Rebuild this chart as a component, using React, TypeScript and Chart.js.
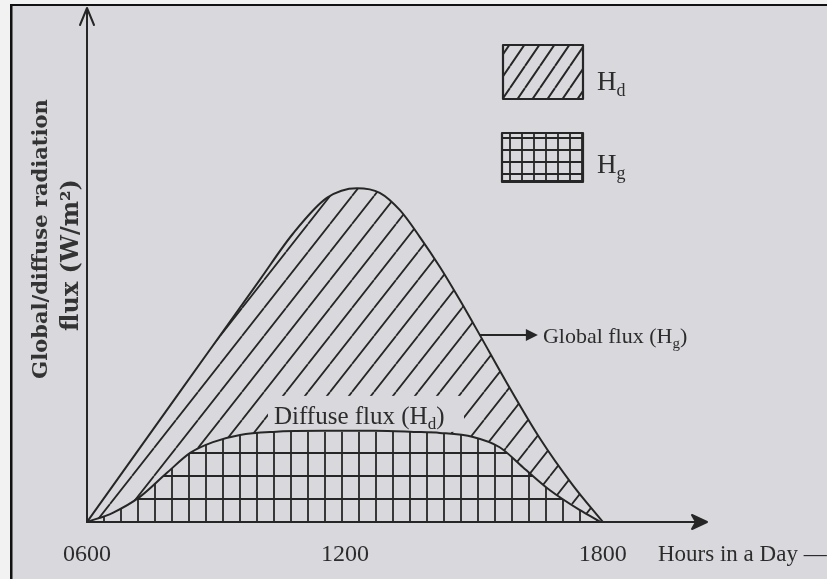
import React, { useEffect, useRef } from "react";
import { Chart, registerables } from "chart.js";

Chart.register(...registerables);

// ---- data (hours of day, flux in arbitrary W/m² units) ----
const hourTicks = [6, 12, 18];
const tickLabels = ["0600", "1200", "1800"];

const globalHours = [6, 8.16, 10.02, 10.79, 11.58, 12.28, 12.81, 13.28, 13.74, 14.21, 14.67, 15.14, 15.77, 16.53, 17.3, 18];
const globalFlux = [0, 254, 473, 563, 633, 652, 643, 609, 557, 498, 434, 365, 271, 164, 72, 0];

const diffuseHours = [6, 6.6, 7.23, 7.86, 8.4, 8.93, 9.56, 10.33, 11.5, 12.7, 13.6, 14.21, 14.98, 15.6, 16.14, 16.77, 17.47, 17.95];
const diffuseFlux = [0, 18, 49, 96, 135, 156, 170, 176, 178, 178, 176, 174, 166, 146, 107, 62, 23, 0];

const yTitleLine1 = "Global/diffuse radiation";
const yTitleLine2 = "flux (W/m²)";
const xTitle = "Hours in a Day —";

const PAPER = "#d9d9dd";
const INK = "#262626";
const TEXT = "#2c2c2c";
const SERIF = "'Liberation Serif', serif";
const BOLD_SERIF = "'DejaVu Serif', serif";

function diagTile(w: number, h: number, lw: number, bg?: string) {
  const c = document.createElement("canvas");
  c.width = w;
  c.height = h;
  const g = c.getContext("2d")!;
  if (bg) {
    g.fillStyle = bg;
    g.fillRect(0, 0, w, h);
  }
  g.strokeStyle = INK;
  g.lineWidth = lw;
  g.beginPath();
  for (const k of [-1, 0, 1]) {
    g.moveTo(k * w, h);
    g.lineTo((k + 1) * w, 0);
  }
  g.stroke();
  return c;
}

function gridTile(w: number, h: number, ox: number, oy: number, lw: number, bg: string) {
  const c = document.createElement("canvas");
  c.width = w;
  c.height = h;
  const g = c.getContext("2d")!;
  g.fillStyle = bg;
  g.fillRect(0, 0, w, h);
  g.strokeStyle = INK;
  g.lineWidth = lw;
  g.beginPath();
  for (const k of [-1, 0, 1]) {
    g.moveTo(ox + k * w, 0);
    g.lineTo(ox + k * w, h);
    g.moveTo(0, oy + k * h);
    g.lineTo(w, oy + k * h);
  }
  g.stroke();
  return c;
}

function subText(ctx: CanvasRenderingContext2D, x: number, y: number, main: string, sub: string, tail: string, size: number) {
  ctx.font = `${size}px ${SERIF}`;
  ctx.fillText(main, x, y);
  let cx = x + ctx.measureText(main).width;
  const ss = Math.round(size * 0.68);
  ctx.font = `${ss}px ${SERIF}`;
  ctx.fillText(sub, cx, y + size * 0.22);
  cx += ctx.measureText(sub).width;
  if (tail) {
    ctx.font = `${size}px ${SERIF}`;
    ctx.fillText(tail, cx, y);
  }
}

export default function App() {
  const ref = useRef<HTMLCanvasElement | null>(null);

  useEffect(() => {
    const canvas = ref.current!;
    const ctx = canvas.getContext("2d")!;
    const diagPattern = ctx.createPattern(diagTile(22, 28, 1.8), "repeat")!;
    const gridPattern = ctx.createPattern(gridTile(17, 23, 2, 16, 1.8, PAPER), "repeat")!;
    const legendDiag = ctx.createPattern(diagTile(15, 22, 2, PAPER), "repeat")!;
    const legendGrid = ctx.createPattern(gridTile(12, 12, 6, 6, 1.8, PAPER), "repeat")!;

    const paperPlugin = {
      id: "paper",
      beforeDraw(chart: any) {
        const c = chart.ctx;
        const W = chart.width;
        const H = chart.height;
        c.save();
        c.fillStyle = "#f2f2f2";
        c.fillRect(0, 0, W, H);
        c.fillStyle = PAPER;
        c.fillRect(12, 6, W - 12, H - 6);
        c.fillStyle = "#111";
        c.fillRect(10, 4, 2.5, H - 4);
        c.fillRect(10, 4, W - 10, 2);
        c.restore();
      },
    };

    const labelBox = (chart: any) => {
      const { x, y } = chart.scales;
      const dx = x.getPixelForValue(10.35);
      const top = y.getPixelForValue(178);
      return { dx, top, dy: top - 7 };
    };

    const decorPlugin = {
      id: "decor",
      beforeDatasetDraw(chart: any, args: any) {
        if (args.index !== 0) return;
        // clear the hatching behind the diffuse label (drawn before the diffuse line)
        const { dx, top, dy } = labelBox(chart);
        const c = chart.ctx;
        c.save();
        c.fillStyle = PAPER;
        c.fillRect(dx - 6, dy - 28, 196, top - (dy - 28) + 1);
        c.restore();
      },
      afterDatasetsDraw(chart: any) {
        const c = chart.ctx;
        const { dx, dy } = labelBox(chart);
        c.save();
        c.fillStyle = TEXT;
        c.textBaseline = "alphabetic";
        subText(c, dx, dy, "Diffuse flux (H", "d", ")", 25);
        c.restore();
      },
      afterDraw(chart: any) {
        const c = chart.ctx;
        const ca = chart.chartArea;
        const { x, y } = chart.scales;
        c.save();
        c.strokeStyle = INK;
        c.fillStyle = INK;
        c.lineWidth = 2;
        c.lineJoin = "round";
        c.lineCap = "round";
        // y-axis arrow head
        c.beginPath();
        c.moveTo(ca.left - 7, ca.top + 15);
        c.lineTo(ca.left, ca.top - 2);
        c.lineTo(ca.left + 7, ca.top + 15);
        c.stroke();
        // x-axis arrow head
        c.beginPath();
        c.moveTo(ca.right + 1, ca.bottom);
        c.lineTo(ca.right - 14, ca.bottom - 7);
        c.lineTo(ca.right - 10, ca.bottom);
        c.lineTo(ca.right - 14, ca.bottom + 7);
        c.closePath();
        c.fill();
        c.stroke();

        // Global flux pointer
        const gx = x.getPixelForValue(globalHours[11]);
        const gy = y.getPixelForValue(globalFlux[11]);
        c.beginPath();
        c.moveTo(gx, gy);
        c.lineTo(gx + 48, gy);
        c.stroke();
        c.beginPath();
        c.moveTo(gx + 58, gy);
        c.lineTo(gx + 46, gy - 6);
        c.lineTo(gx + 46, gy + 6);
        c.closePath();
        c.fill();
        c.fillStyle = TEXT;
        c.textBaseline = "alphabetic";
        subText(c, gx + 63, gy + 8, "Global flux (H", "g", ")", 22);

        // X title
        c.font = `23px ${SERIF}`;
        c.textBaseline = "middle";
        c.fillText(xTitle, 658, 555);

        // Y title (two rotated lines)
        c.fillStyle = "#333";
        c.textAlign = "center";
        c.textBaseline = "middle";
        c.save();
        c.translate(42, 239);
        c.rotate(-Math.PI / 2);
        c.font = `bold 21px ${BOLD_SERIF}`;
        c.fillText(yTitleLine1, 0, 0);
        c.restore();
        c.save();
        c.translate(72, 255);
        c.rotate(-Math.PI / 2);
        c.font = `bold 24px ${BOLD_SERIF}`;
        c.fillText(yTitleLine2, 0, 0);
        c.restore();
        c.textAlign = "left";

        // Legend
        c.fillStyle = legendDiag;
        c.fillRect(503, 45, 80, 54);
        c.lineWidth = 2.2;
        c.strokeStyle = INK;
        c.strokeRect(503, 45, 80, 54);
        c.fillStyle = legendGrid;
        c.fillRect(502, 133, 81, 49);
        c.strokeRect(502, 133, 81, 49);
        c.fillStyle = INK;
        c.fillRect(502, 180, 81, 3);
        c.fillStyle = TEXT;
        c.textBaseline = "alphabetic";
        subText(c, 597, 90, "H", "d", "", 27);
        subText(c, 597, 173, "H", "g", "", 27);
        c.restore();
      },
    };

    const chart = new Chart(ctx, {
      type: "line",
      data: {
        datasets: [
          {
            label: "Diffuse flux (Hd)",
            data: diffuseHours.map((h, i) => ({ x: h, y: diffuseFlux[i] })),
            borderColor: INK,
            borderWidth: 2,
            backgroundColor: gridPattern as any,
            fill: "origin",
            pointRadius: 0,
            cubicInterpolationMode: "monotone",
          },
          {
            label: "Global flux (Hg)",
            data: globalHours.map((h, i) => ({ x: h, y: globalFlux[i] })),
            borderColor: INK,
            borderWidth: 2,
            backgroundColor: diagPattern as any,
            fill: "origin",
            pointRadius: 0,
            cubicInterpolationMode: "monotone",
          },
        ],
      },
      options: {
        animation: false,
        responsive: false,
        devicePixelRatio: 1,
        layout: { padding: { left: 87, top: 10, right: 121, bottom: -9 } },
        plugins: {
          legend: { display: false },
          tooltip: { enabled: false },
        },
        scales: {
          x: {
            type: "linear",
            min: 6,
            max: 20.4,
            grid: { display: false, drawTicks: false },
            border: { display: true, color: INK, width: 2 },
            afterBuildTicks: (s: any) => {
              s.ticks = hourTicks.map((v) => ({ value: v }));
            },
            ticks: {
              padding: 18.6,
              autoSkip: false,
              maxRotation: 0,
              color: TEXT,
              font: { family: SERIF, size: 24 },
              callback: (v: any) => {
                const i = hourTicks.indexOf(Number(v));
                return i >= 0 ? tickLabels[i] : "";
              },
            },
          },
          y: {
            type: "linear",
            min: 0,
            max: 1000,
            grid: { display: false, drawTicks: false },
            border: { display: true, color: INK, width: 2 },
            ticks: { display: false },
            title: { display: false },
          },
        },
      },
      plugins: [paperPlugin, decorPlugin],
    } as any);

    return () => chart.destroy();
  }, []);

  return (
    <div style={{ position: "absolute", left: 0, top: 0, width: 827, height: 579 }}>
      <canvas ref={ref} width={827} height={579} style={{ display: "block", width: 827, height: 579 }} />
    </div>
  );
}
